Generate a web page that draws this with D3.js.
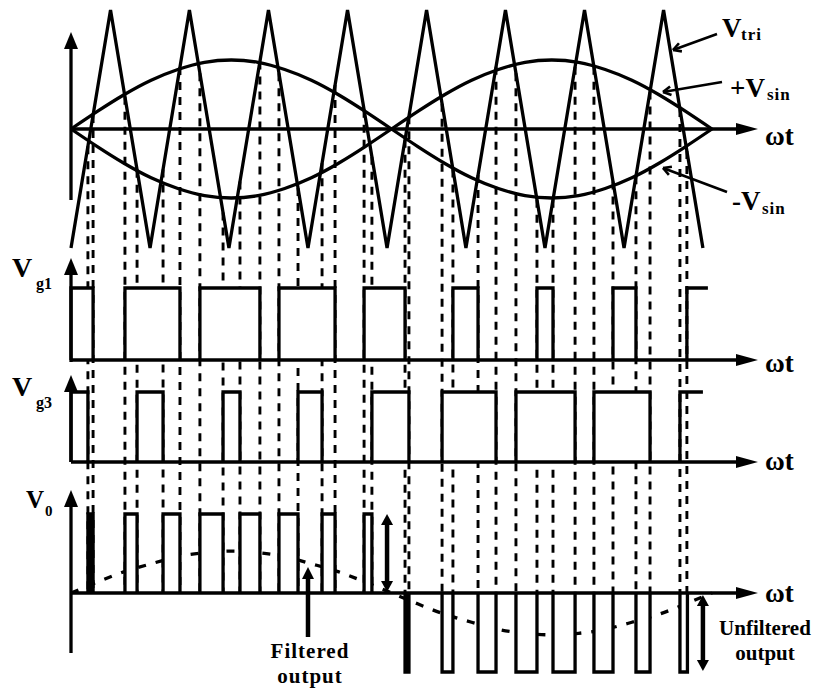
<!DOCTYPE html>
<html><head><meta charset="utf-8">
<script src="https://cdn.jsdelivr.net/npm/d3@7"></script>
<style>body{margin:0;background:#fff}svg{display:block}</style>
</head><body><svg id="c" width="822" height="689"></svg>
<script>
// ---- data (angles in degrees of ωt, values normalised) ----
const carrierAngle = [0,22.2,44.4,66.5,88.7,110.9,133.1,155.3,177.5,199.7,221.8,244.0,266.2,288.4,310.6,332.8,354.9];
const carrierValue = [-1,1,-1,1,-1,1,-1,1,-1,1,-1,1,-1,1,-1,1,-1];
const sineAngle = [0,15,30,45,60,75,90,105,120,135,150,165,180,195,210,225,240,255,270,285,300,315,330,345,360];
const sineValue = [0,0.15,0.29,0.41,0.50,0.56,0.58,0.56,0.50,0.41,0.29,0.15,0,-0.15,-0.29,-0.41,-0.50,-0.56,-0.58,-0.56,-0.50,-0.41,-0.29,-0.15,0];
const filteredValue = [0,0.14,0.27,0.37,0.46,0.51,0.53,0.51,0.46,0.37,0.27,0.14,0,-0.14,-0.27,-0.37,-0.46,-0.51,-0.53,-0.51,-0.46,-0.37,-0.27,-0.14,0];
// gate pulses [start, end]; last one is open (no falling edge)
const vg1Pulses = [[0,12.4],[30.3,61.2],[72.4,106.1],[116.8,148.3],[164.6,187.6],[214.5,228.6],[261.7,270.7],[304.4,317.3],[345.9,357.7]];
const vg3Pulses = [[0,9.5],[37.1,51.7],[85.4,94.9],[127.5,141.0],[169.0,189.8],[208.4,238.7],[249.9,283.1],[293.7,325.2],[342.0,354.9]];
const voPositive = [[9.5,12.4],[30.3,37.1],[51.7,61.2],[72.4,85.4],[94.9,106.1],[116.8,127.5],[141.0,148.3],[164.6,169.0]];
const voNegative = [[187.6,189.8],[208.4,214.5],[228.6,238.7],[249.9,261.7],[270.7,283.1],[293.7,304.4],[317.3,325.2],[342.0,346.2]];
const axisLabel = "ωt";

// ---- layout ----
const svg = d3.select("#c");
svg.append("rect").attr("width",822).attr("height",689).attr("fill","#fff");
const x = d3.scaleLinear().domain([0,360]).range([71,712]);
const yTop = d3.scaleLinear().domain([-1,1]).range([248,10]);
const yG1 = d3.scaleLinear().domain([0,1]).range([360,288]);
const yG3 = d3.scaleLinear().domain([0,1]).range([462,392]);
const yVo = d3.scaleLinear().domain([-1,1]).range([672,514]);
const carrierAt = d3.scaleLinear().domain(carrierAngle).range(carrierValue);
const AX_END = 758, SW = 3.3;
const font = "'Liberation Serif','Times New Roman',serif";

function head(tx, ty, dir, L, W) {
  let pts;
  if (dir === "right") pts = [[tx,ty],[tx-L,ty-W],[tx-L,ty+W]];
  else if (dir === "up") pts = [[tx,ty],[tx-W,ty+L],[tx+W,ty+L]];
  else pts = [[tx,ty],[tx-W,ty-L],[tx+W,ty-L]];
  svg.append("polygon").attr("points", pts.map(p=>p.join(",")).join(" ")).attr("fill","#000");
}
function line(x1,y1,x2,y2,w,dash){
  const l = svg.append("line").attr("x1",x1).attr("y1",y1).attr("x2",x2).attr("y2",y2)
    .attr("stroke","#000").attr("stroke-width",w||SW);
  if (dash) l.attr("stroke-dasharray",dash);
  return l;
}

// ---- dashed projection lines ----
const voBase = yVo(0);
function dashed(pulses){
  pulses.forEach((p,i)=>{
    const last = i === pulses.length-1;
    [p[0],p[1]].forEach((a,j)=>{
      if (a === 0) return;
      if (last && j===1) return;
      line(x(a), yTop(carrierAt(a)), x(a), voBase, 2.9, "8,7");
    });
  });
}
dashed(vg1Pulses); dashed(vg3Pulses);

// ---- filtered output (dashed sine) ----
const idx = d3.range(sineAngle.length);
svg.append("path").datum(idx)
  .attr("d", d3.line().x(i=>x(sineAngle[i])).y(i=>yVo(filteredValue[i])).curve(d3.curveNatural))
  .attr("fill","none").attr("stroke","#000").attr("stroke-width",SW).attr("stroke-dasharray","8,10");

// ---- pulses ----
function pulses(list, ybase, ytop, openLast){
  list.forEach((p,i)=>{
    const open = openLast && i===list.length-1;
    const narrow = (x(p[1]) - x(p[0])) < 7;
    let d = `M${x(p[0])},${ybase}V${ytop}H${x(p[1])}`;
    if (!open) d += `V${ybase}`;
    svg.append("path").attr("d", d).attr("fill", open ? "none" : (narrow ? "#000" : "#fff"))
      .attr("stroke","#000").attr("stroke-width",SW).attr("stroke-linejoin","miter");
  });
}
pulses(vg1Pulses, yG1(0), yG1(1), true);
pulses(vg3Pulses, yG3(0), yG3(1), true);
pulses(voPositive, voBase, yVo(1), false);
pulses(voNegative, voBase, yVo(-1), false);

// ---- carrier and sines ----
svg.append("path").datum(d3.range(carrierAngle.length))
  .attr("d", d3.line().x(i=>x(carrierAngle[i])).y(i=>yTop(carrierValue[i])))
  .attr("fill","none").attr("stroke","#000").attr("stroke-width",SW).attr("stroke-linejoin","miter");
[1,-1].forEach(s=>{
  svg.append("path").datum(idx)
    .attr("d", d3.line().x(i=>x(sineAngle[i])).y(i=>yTop(s*sineValue[i])).curve(d3.curveNatural))
    .attr("fill","none").attr("stroke","#000").attr("stroke-width",SW);
});

// ---- axes ----
const x0 = x(0);
[[yTop(0)],[yG1(0)],[yG3(0)],[voBase]].forEach(([yy])=>{
  line(x0, yy, AX_END-18, yy, SW);
  head(AX_END, yy, "right", 22, 6);
});
// vertical axes: [bottom, tip]
[[200,32],[362,258],[462,375],[653,490]].forEach(([b,t])=>{
  line(x0, b, x0, t+10, SW);
  head(x0, t, "up", 17, 7);
});

// ---- annotation arrows ----
function openArrow(x1,y1,tx,ty){
  line(x1,y1,tx,ty,2.6);
  const ang = Math.atan2(y1-ty, x1-tx), L = 9, sp = 0.5;
  [ang-sp, ang+sp].forEach(a=>line(tx,ty,tx+L*Math.cos(a),ty+L*Math.sin(a),2.6));
}
openArrow(717,34,673,50);
openArrow(722,82,663,92);
openArrow(727,192,663,168);

// filtered output arrow
line(x(133.1), 637, x(133.1), 578, 4.5);
head(x(133.1), 567, "up", 12, 6);
// double arrows
line(x(177.5), 524, x(177.5), 583, 4.5);
head(x(177.5), 514, "up", 11, 6);
head(x(177.5), 592, "down", 11, 6);
line(x(354.9), 604, x(354.9), 662, 4.5);
head(x(354.9), 595, "up", 11, 6);
head(x(354.9), 671, "down", 11, 6);

// ---- text ----
function txt(s, tx, ty, size, anchor){
  return svg.append("text").attr("x",tx).attr("y",ty).attr("font-family",font)
    .attr("font-weight","bold").attr("font-size",size).attr("text-anchor",anchor||"start").text(s);
}
[145,372,470,602].forEach(b=>txt(axisLabel, 765, b, 27));
txt("V", 722, 37, 27); txt("tri", 741, 40, 17).attr("letter-spacing",1);
txt("+V", 730, 97, 27); txt("sin", 767, 100, 17).attr("letter-spacing",1);
txt("-V", 732, 210, 27); txt("sin", 762, 214, 17).attr("letter-spacing",1);
txt("V", 12, 277, 28); txt("g1", 36, 289, 16);
txt("V", 12, 396, 28); txt("g3", 36, 408, 16);
txt("V", 26, 508, 25); txt("0", 45, 516, 15);
txt("Filtered", 310, 658, 21, "middle").attr("letter-spacing",1);
txt("output", 310, 683, 21, "middle").attr("letter-spacing",1);
txt("Unfiltered", 765, 635, 21, "middle");
txt("output", 765, 660, 21, "middle");
</script></body></html>
